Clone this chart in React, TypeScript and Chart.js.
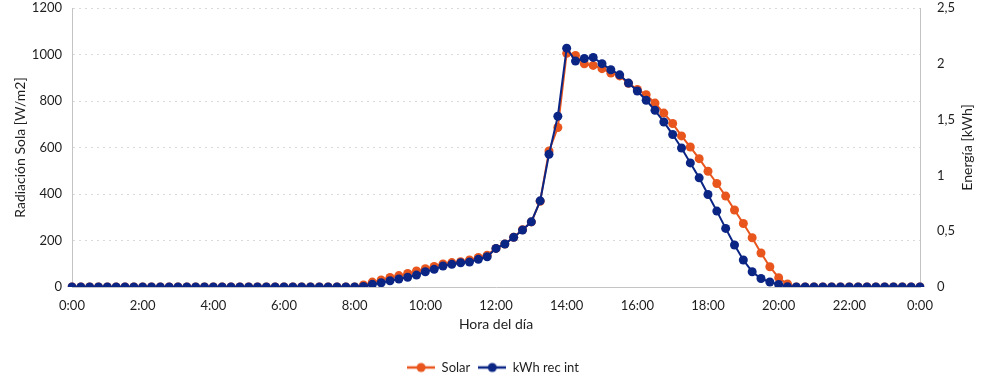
import React, { useEffect, useRef } from "react";
import { Chart, registerables } from "chart.js";

Chart.register(...registerables);

// 15-minute categories from 0:00 to 24:00 (shown as 0:00)
const times: string[] = Array.from({ length: 97 }, (_, i) => {
  const h = Math.floor(i / 4) % 24;
  const m = (i % 4) * 15;
  return `${h}:${m === 0 ? "00" : String(m)}`;
});

const tickLabels = ["0:00", "2:00", "4:00", "6:00", "8:00", "10:00", "12:00", "14:00", "16:00", "18:00", "20:00", "22:00", "0:00"];

const zeros33 = [0, 0, 0, 0, 0, 0, 0, 0, 0, 0, 0, 0, 0, 0, 0, 0, 0, 0, 0, 0, 0, 0, 0, 0, 0, 0, 0, 0, 0, 0, 0, 0, 0];
const zeros15 = [0, 0, 0, 0, 0, 0, 0, 0, 0, 0, 0, 0, 0, 0, 0];

// Solar radiation [W/m2], 8:15 .. 20:15
const solarDay = [
  9, 21, 30, 41, 49, 58, 69, 79, 88, 99, 105, 109, 116, 127, 137,
  166, 185, 214, 246, 280, 369, 585, 686, 1005,
  996, 960, 953, 939, 920, 908, 876, 850, 827, 791, 748, 703, 650, 602, 552, 498, 445, 391,
  331, 273, 212, 146, 87, 40, 13,
];
const solar = [...zeros33, ...solarDay, ...zeros15];

// Energy [kWh], 8:15 .. 20:15
const kwhDay = [
  0.005, 0.024, 0.038, 0.056, 0.072, 0.087, 0.107, 0.137, 0.158, 0.188, 0.203, 0.217, 0.224, 0.248, 0.271,
  0.346, 0.385, 0.445, 0.51, 0.584, 0.772, 1.19, 1.53, 2.14,
  2.024, 2.048, 2.057, 2.001, 1.947, 1.901, 1.827, 1.756, 1.673, 1.583, 1.479, 1.366, 1.246, 1.112, 0.978, 0.829, 0.68, 0.525,
  0.376, 0.242, 0.137, 0.076, 0.045, 0.022, 0.003,
];
const kwh = [...zeros33, ...kwhDay, ...zeros15];

const ORANGE = "#E8561E";
const NAVY = "#0B2585";
const TEXT = "#1e1e1e";
const FONT = "Lato";

function legendIcon(color: string): HTMLCanvasElement {
  const c = document.createElement("canvas");
  c.width = 28;
  c.height = 12;
  const ctx = c.getContext("2d")!;
  ctx.strokeStyle = color;
  ctx.lineWidth = 2.5;
  ctx.beginPath();
  ctx.moveTo(0, 6);
  ctx.lineTo(28, 6);
  ctx.stroke();
  ctx.fillStyle = color;
  ctx.beginPath();
  ctx.arc(14, 6, 4.5, 0, Math.PI * 2);
  ctx.fill();
  return c;
}

const rightTitlePlugin = {
  id: "rightTitle",
  afterLayout(chart: any) {
    if (chart.legend) {
      chart.legend.left -= 7;
      chart.legend.right -= 7;
    }
  },
  afterDraw(chart: any) {
    const { ctx, chartArea } = chart;
    ctx.save();
    ctx.translate(967, (chartArea.top + chartArea.bottom) / 2);
    ctx.rotate(-Math.PI / 2);
    ctx.font = `14px ${FONT}`;
    ctx.fillStyle = TEXT;
    ctx.textAlign = "center";
    ctx.textBaseline = "middle";
    ctx.fillText("Energía [kWh]", 0, 0);
    ctx.restore();
  },
};

export default function App() {
  const ref = useRef<HTMLCanvasElement>(null);

  useEffect(() => {
    if (!ref.current) return;
    const icons = [legendIcon(ORANGE), legendIcon(NAVY)];
    const chart = new Chart(ref.current, {
      type: "line",
      data: {
        labels: times,
        datasets: [
          {
            label: "Solar",
            data: solar,
            yAxisID: "y",
            borderColor: ORANGE,
            backgroundColor: ORANGE,
            borderWidth: 2,
            pointRadius: 4.5,
            pointBorderWidth: 0,
            pointBackgroundColor: ORANGE,
            tension: 0,
            order: 1,
          },
          {
            label: "kWh rec int",
            data: kwh,
            yAxisID: "y1",
            borderColor: NAVY,
            backgroundColor: NAVY,
            borderWidth: 2,
            pointRadius: 4.5,
            pointBorderWidth: 0,
            pointBackgroundColor: NAVY,
            tension: 0,
            order: 0,
          },
        ],
      },
      options: {
        animation: false,
        responsive: false,
        layout: { padding: { left: 0, right: 0, top: 8, bottom: 4 } },
        plugins: {
          tooltip: { enabled: false },
          legend: {
            position: "bottom",
            labels: {
              usePointStyle: true,
              pointStyleWidth: 28,
              padding: 8,
              color: TEXT,
              font: { family: FONT, size: 13 },
              sort: (a: any, b: any) => a.datasetIndex - b.datasetIndex,
              generateLabels: (chart: any) => {
                const items = Chart.defaults.plugins.legend.labels.generateLabels(chart);
                return items.map((it: any) => ({ ...it, pointStyle: icons[it.datasetIndex] }));
              },
            },
          },
        },
        scales: {
          x: {
            type: "category",
            offset: false,
            grid: { display: false, drawTicks: false },
            border: { display: true, color: "#c4c4c4", width: 1 },
            ticks: {
              autoSkip: false,
              maxRotation: 0,
              padding: 11,
              color: TEXT,
              font: { family: FONT, size: 13 },
              callback: (_v: any, index: number) => (index % 8 === 0 ? tickLabels[index / 8] : ""),
            },
            title: {
              display: true,
              text: "Hora del día",
              color: TEXT,
              font: { family: FONT, size: 14 },
              padding: { top: 0, bottom: 20 },
            },
            afterFit: (scale: any) => {
              scale.height = 66;
            },
          },
          y: {
            position: "left",
            min: 0,
            max: 1200,
            ticks: {
              stepSize: 200,
              padding: 0,
              color: TEXT,
              font: { family: FONT, size: 13 },
              callback: (v: any) => String(v),
            },
            grid: { color: "#dadada", drawTicks: true, tickLength: 10, tickColor: "rgba(0,0,0,0)", lineWidth: 1 },
            border: { display: true, color: "#c4c4c4", dash: [2, 4] },
            title: {
              display: true,
              text: "Radiación Sola [W/m2]",
              color: TEXT,
              font: { family: FONT, size: 14 },
              padding: { top: 12, bottom: 0 },
            },
            afterFit: (scale: any) => {
              scale.width = 72;
            },
          },
          y1: {
            position: "right",
            min: 0,
            max: 2.5,
            ticks: {
              stepSize: 0.5,
              padding: 0,
              color: TEXT,
              font: { family: FONT, size: 13 },
              callback: (v: any) => String(v).replace(".", ","),
            },
            grid: { drawOnChartArea: false, drawTicks: true, tickLength: 17, tickColor: "rgba(0,0,0,0)" },
            border: { display: true, color: "#c4c4c4" },
            afterFit: (scale: any) => {
              scale.width = 80;
            },
          },
        },
      },
      plugins: [rightTitlePlugin],
    } as any);
    return () => chart.destroy();
  }, []);

  return (
    <div style={{ position: "absolute", left: 0, top: 0, width: 1000, height: 388, background: "#fff" }}>
      <canvas ref={ref} width={1000} height={388} style={{ display: "block" }} />
    </div>
  );
}
